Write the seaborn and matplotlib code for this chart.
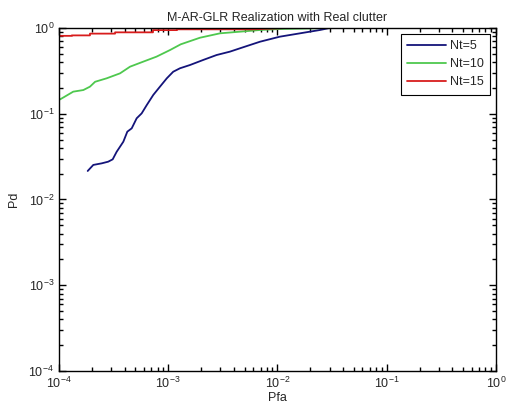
import numpy as np
import pandas as pd
import seaborn as sns
import matplotlib.pyplot as plt
from matplotlib.ticker import NullFormatter, FixedLocator

# Curvas ROC (Pfa, Pd)
pfa_nt5 = [1.83e-4, 2.06e-4, 2.46e-4, 2.82e-4, 3.1e-4, 3.37e-4, 3.88e-4, 4.22e-4,
           4.63e-4, 5.14e-4, 5.71e-4, 6.35e-4, 7.3e-4, 8.4e-4, 9.7e-4, 1.11e-3,
           1.28e-3, 1.58e-3, 2.09e-3, 2.77e-3, 3.67e-3, 4.54e-3, 6.92e-3, 1.05e-2,
           1.61e-2, 2.45e-2, 3.0e-2, 1.0]
pd_nt5 = [0.0215, 0.0253, 0.0264, 0.0276, 0.0294, 0.036, 0.0472, 0.0618,
          0.0676, 0.0885, 0.101, 0.126, 0.166, 0.207, 0.259, 0.309,
          0.339, 0.370, 0.424, 0.484, 0.530, 0.580, 0.692, 0.792,
          0.867, 0.948, 1.0, 1.0]

pfa_nt10 = [1.0e-4, 1.06e-4, 1.35e-4, 1.67e-4, 1.92e-4, 2.14e-4, 2.73e-4, 3.62e-4,
            4.47e-4, 5.9e-4, 7.8e-4, 1.04e-3, 1.3e-3, 1.95e-3, 2.98e-3, 4.54e-3,
            6.92e-3, 1.05e-2, 1.8e-2, 2.8e-2, 1.0]
pd_nt10 = [0.145, 0.151, 0.181, 0.189, 0.207, 0.236, 0.259, 0.296,
           0.354, 0.405, 0.463, 0.554, 0.645, 0.77, 0.867, 0.906,
           0.948, 0.973, 0.985, 1.0, 1.0]

pfa_nt15 = [1.0e-4, 1.31e-4, 1.31e-4, 1.92e-4, 1.92e-4, 3.26e-4, 3.26e-4, 7.25e-4,
            7.25e-4, 1.2e-3, 1.2e-3, 6.0e-3, 1.2e-2, 1.0]
pd_nt15 = [0.81, 0.81, 0.82, 0.82, 0.86, 0.86, 0.89, 0.89,
           0.945, 0.945, 0.965, 0.965, 1.0, 1.0]

etiquetas = ['Nt=5', 'Nt=10', 'Nt=15']
colores = ['#14147a', '#4ec84e', '#d81c1c']
decadas = [1e-4, 1e-3, 1e-2, 1e-1, 1]

datos = pd.concat([
    pd.DataFrame({'Pfa': pfa_nt5, 'Pd': pd_nt5, 'serie': etiquetas[0]}),
    pd.DataFrame({'Pfa': pfa_nt10, 'Pd': pd_nt10, 'serie': etiquetas[1]}),
    pd.DataFrame({'Pfa': pfa_nt15, 'Pd': pd_nt15, 'serie': etiquetas[2]}),
], ignore_index=True)

sns.set_style('ticks')
plt.rcParams['font.family'] = ['Liberation Sans', 'DejaVu Sans']
plt.rcParams['mathtext.fontset'] = 'custom'
plt.rcParams['mathtext.rm'] = 'Liberation Sans'

fig = plt.figure(figsize=(5.11, 4.07), dpi=100)
ax = fig.add_axes([0.1155, 0.0885, 0.855, 0.8427])

sns.lineplot(data=datos, x='Pfa', y='Pd', hue='serie', hue_order=etiquetas,
             palette=colores, estimator=None, sort=False, linewidth=1.3, ax=ax)

ax.set_xscale('log')
ax.set_yscale('log')
ax.set_xlim(1e-4, 1)
ax.set_ylim(1e-4, 1)

# marcas menores tipo MATLAB: 2..9 de cada decada
menores = [d * k for d in decadas[:-1] for k in range(2, 10)]
ax.set_xticks(decadas)
ax.set_yticks(decadas)
ax.xaxis.set_minor_locator(FixedLocator(menores))
ax.yaxis.set_minor_locator(FixedLocator(menores))
ax.xaxis.set_minor_formatter(NullFormatter())
ax.yaxis.set_minor_formatter(NullFormatter())

ax.tick_params(which='both', direction='in', bottom=True, left=True, top=True, right=True,
               labelsize=9, color='black')
ax.tick_params(which='major', length=5, width=1.0)
ax.tick_params(which='minor', length=3, width=1.0)
for s in ax.spines.values():
    s.set_linewidth(1.0)
    s.set_color('black')

ax.set_title('M-AR-GLR Realization with Real clutter', fontsize=9, pad=5)
ax.set_xlabel('Pfa', fontsize=9, labelpad=1)
ax.set_ylabel('Pd', fontsize=9, labelpad=6)

leg = ax.legend(loc='upper right', fontsize=9, fancybox=False, edgecolor='black',
                framealpha=1, borderaxespad=0.45, handlelength=3.1, handletextpad=0.35,
                labelspacing=0.5, borderpad=0.5)
leg.get_frame().set_linewidth(0.8)

fig.savefig('out.png', dpi=100)
